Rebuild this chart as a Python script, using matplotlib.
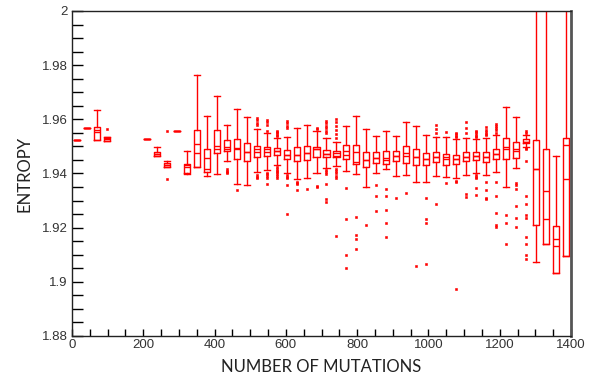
import matplotlib
matplotlib.use('Agg')
import matplotlib.pyplot as plt
from matplotlib.ticker import MultipleLocator

# number of mutations (box centres)
positions = [14, 42, 70, 98, 210, 238, 266, 294, 322, 350, 378, 406, 434, 462,
             490, 518, 546, 574, 602, 630, 658, 686, 714, 742, 770, 798, 826,
             854, 882, 910, 938, 966, 994, 1022, 1050, 1078, 1106, 1134, 1162,
             1190, 1218, 1246, 1274, 1302, 1330, 1358, 1386]

whislo = [1.9524, 1.9569, 1.9524, 1.9519, 1.9526, 1.9466, 1.9425, 1.9557, 1.9398,
          1.9425, 1.9391, 1.9398, 1.9445, 1.9361, 1.9357, 1.9404, 1.9413, 1.9430,
          1.9400, 1.9381, 1.9383, 1.9403, 1.9421, 1.9428, 1.9409, 1.9399, 1.9349,
          1.9401, 1.9417, 1.9392, 1.9393, 1.9370, 1.9367, 1.9391, 1.9386, 1.9382,
          1.9394, 1.9403, 1.9393, 1.9404, 1.9350, 1.9420, 1.9497, 1.9073, 1.9140,
          1.9031, 1.9096]
q1 = [1.9524, 1.9569, 1.9524, 1.9519, 1.9526, 1.9466, 1.9425, 1.9557, 1.9400,
      1.9425, 1.9407, 1.9477, 1.9483, 1.9452, 1.9447, 1.9460, 1.9463, 1.9467,
      1.9452, 1.9447, 1.9449, 1.9460, 1.9460, 1.9460, 1.9455, 1.9435, 1.9425,
      1.9439, 1.9434, 1.9445, 1.9440, 1.9432, 1.9430, 1.9441, 1.9432, 1.9435,
      1.9445, 1.9450, 1.9444, 1.9453, 1.9452, 1.9458, 1.9511, 1.9210, 1.9140,
      1.9031, 1.9096]
median = [1.9524, 1.9569, 1.9555, 1.9527, 1.9526, 1.9472, 1.9431, 1.9557, 1.9425,
          1.9477, 1.9418, 1.9489, 1.9489, 1.9492, 1.9478, 1.9480, 1.9480, 1.9484,
          1.9470, 1.9468, 1.9477, 1.9489, 1.9473, 1.9466, 1.9467, 1.9444, 1.9451,
          1.9457, 1.9449, 1.9464, 1.9466, 1.9461, 1.9453, 1.9460, 1.9453, 1.9455,
          1.9462, 1.9466, 1.9462, 1.9472, 1.9489, 1.9484, 1.9517, 1.9415, 1.9233,
          1.9132, 1.9378]
mean = [1.9524, 1.9569, 1.9561, 1.9531, 1.9526, 1.9472, 1.9431, 1.9557, 1.9433,
        1.9509, 1.9456, 1.9501, 1.9497, 1.9494, 1.9480, 1.9489, 1.9489, 1.9484,
        1.9470, 1.9468, 1.9477, 1.9489, 1.9473, 1.9475, 1.9484, 1.9478, 1.9451,
        1.9457, 1.9457, 1.9466, 1.9476, 1.9461, 1.9455, 1.9460, 1.9462, 1.9455,
        1.9462, 1.9466, 1.9462, 1.9472, 1.9499, 1.9490, 1.9517, 1.9415, 1.9334,
        1.9157, 1.9504]
q3 = [1.9524, 1.9569, 1.9570, 1.9536, 1.9526, 1.9478, 1.9437, 1.9557, 1.9434,
      1.9561, 1.9489, 1.9561, 1.9522, 1.9526, 1.9511, 1.9501, 1.9497, 1.9494,
      1.9486, 1.9497, 1.9501, 1.9499, 1.9487, 1.9484, 1.9504, 1.9505, 1.9480,
      1.9478, 1.9483, 1.9483, 1.9500, 1.9490, 1.9475, 1.9478, 1.9472, 1.9470,
      1.9478, 1.9480, 1.9479, 1.9489, 1.9530, 1.9517, 1.9526, 1.9524, 1.9492,
      1.9206, 1.9530]
whishi = [1.9524, 1.9569, 1.9634, 1.9536, 1.9526, 1.9497, 1.9447, 1.9557, 1.9483,
          1.9764, 1.9613, 1.9687, 1.9579, 1.9637, 1.9607, 1.9564, 1.9551, 1.9532,
          1.9536, 1.9568, 1.9580, 1.9558, 1.9530, 1.9517, 1.9576, 1.9612, 1.9563,
          1.9540, 1.9556, 1.9537, 1.9589, 1.9576, 1.9541, 1.9534, 1.9534, 1.9526,
          1.9530, 1.9526, 1.9530, 1.9542, 1.9647, 1.9610, 1.9542, 2.05, 2.05,
          1.9466, 2.05]
outliers = [
    [], [], [], [1.9566], [], [], [1.9557, 1.9378], [], [],
    [], [], [], [1.9415, 1.9410, 1.9405, 1.9400], [1.9339], [],
    [1.9605, 1.9597, 1.9588, 1.9580, 1.9394, 1.9388, 1.9382],
    [1.9597, 1.9590, 1.9579, 1.9558, 1.9403, 1.9397, 1.9390, 1.9384, 1.9361],
    [1.9558, 1.9553, 1.9548, 1.9543, 1.9538, 1.9425, 1.9418, 1.9411, 1.9404,
     1.9397, 1.9390, 1.9383],
    [1.9594, 1.9585, 1.9577, 1.9568, 1.9394, 1.9388, 1.9382, 1.9357, 1.9250],
    [1.9370, 1.9366, 1.9361, 1.9339],
    [1.9342],
    [1.9569, 1.9565, 1.9353, 1.9349],
    [1.9594, 1.9585, 1.9576, 1.9567, 1.9558, 1.9550, 1.9413, 1.9406, 1.9399,
     1.9361, 1.9305, 1.9294],
    [1.9603, 1.9590, 1.9575, 1.9560, 1.9545, 1.9532, 1.9418, 1.9410, 1.9400,
     1.9390, 1.9382, 1.9169],
    [1.9345, 1.9231, 1.9098, 1.9050],
    [1.9240, 1.9172, 1.9157, 1.9122],
    [1.9211],
    [1.9356, 1.9317, 1.9261],
    [1.9343, 1.9317, 1.9264, 1.9218, 1.9167],
    [1.9310],
    [1.9327],
    [1.9057],
    [1.9311, 1.9231, 1.9218, 1.9065],
    [1.9579, 1.9563, 1.9548, 1.9286],
    [1.9554, 1.9364],
    [1.9551, 1.9545, 1.9540, 1.9536, 1.9372, 1.9368, 1.8972],
    [1.9591, 1.9567, 1.9551, 1.9324, 1.9314],
    [1.9558, 1.9552, 1.9546, 1.9540, 1.9536, 1.9394, 1.9388, 1.9382, 1.9346,
     1.9319],
    [1.9570, 1.9562, 1.9554, 1.9546, 1.9541, 1.9370, 1.9340, 1.9310, 1.9305],
    [1.9582, 1.9575, 1.9567, 1.9560, 1.9550, 1.9367, 1.9317, 1.9255, 1.9209,
     1.9203],
    [1.9246, 1.9217, 1.9141],
    [1.9366, 1.9357, 1.9344, 1.9280, 1.9236, 1.9201],
    [1.9558, 1.9551, 1.9495, 1.9490, 1.9446, 1.9317, 1.9287, 1.9247, 1.9234,
     1.9164, 1.9138, 1.9100, 1.9084],
    [], [], [], [],
]

yticks = [1.88, 1.9, 1.92, 1.94, 1.96, 1.98, 2.0]
ytick_labels = ['1.88', '1.9', '1.92', '1.94', '1.96', '1.98', '2']
xticks = [0, 200, 400, 600, 800, 1000, 1200, 1400]

red = '#ff0000'

stats = []
for i in range(len(positions)):
    stats.append({'med': median[i], 'mean': mean[i], 'q1': q1[i], 'q3': q3[i],
                  'whislo': whislo[i], 'whishi': whishi[i], 'fliers': outliers[i]})

fig = plt.figure(figsize=(5.94, 3.79), dpi=100)
ax = fig.add_axes([0.1212, 0.1135, 0.8401, 0.8575])

line = {'color': red, 'linewidth': 1.0}
ax.bxp(stats, positions=positions, widths=17, capwidths=17,
       showmeans=True, meanline=True,
       boxprops=line, whiskerprops=line, capprops=line,
       medianprops=line, meanprops={'color': red, 'linewidth': 1.0, 'linestyle': '-'},
       flierprops={'marker': 's', 'markersize': 1.6, 'markerfacecolor': red,
                   'markeredgecolor': red, 'markeredgewidth': 0.4})

ax.set_xlim(0, 1400)
ax.set_ylim(1.88, 2.0)
ax.set_xticks(xticks)
ax.set_xticklabels([str(t) for t in xticks])
ax.set_yticks(yticks)
ax.set_yticklabels(ytick_labels)
ax.xaxis.set_minor_locator(MultipleLocator(50))
ax.yaxis.set_minor_locator(MultipleLocator(0.005))

for lab in ax.get_xticklabels() + ax.get_yticklabels():
    lab.set_fontfamily('Liberation Sans')
    lab.set_fontsize(9.5)
    lab.set_color('#333333')

ax.tick_params(axis='y', which='major', direction='in', length=8, width=1.0, pad=3)
ax.tick_params(axis='y', which='minor', direction='in', length=8, width=1.0)
ax.tick_params(axis='x', which='major', direction='in', length=5, width=1.0, pad=2)
ax.tick_params(axis='x', which='minor', direction='in', length=5, width=1.0)

for side in ['left', 'bottom', 'top']:
    ax.spines[side].set_color('#222222')
    ax.spines[side].set_linewidth(1.0)
ax.spines['right'].set_color('#555555')
ax.spines['right'].set_linewidth(2.0)

ax.set_xlabel('NUMBER OF MUTATIONS', fontfamily='Lato', fontsize=12, color='#222222',
              labelpad=6)
ax.set_ylabel('ENTROPY', fontfamily='Lato', fontsize=12, color='#222222', labelpad=7)

fig.savefig('out.png', dpi=100)
